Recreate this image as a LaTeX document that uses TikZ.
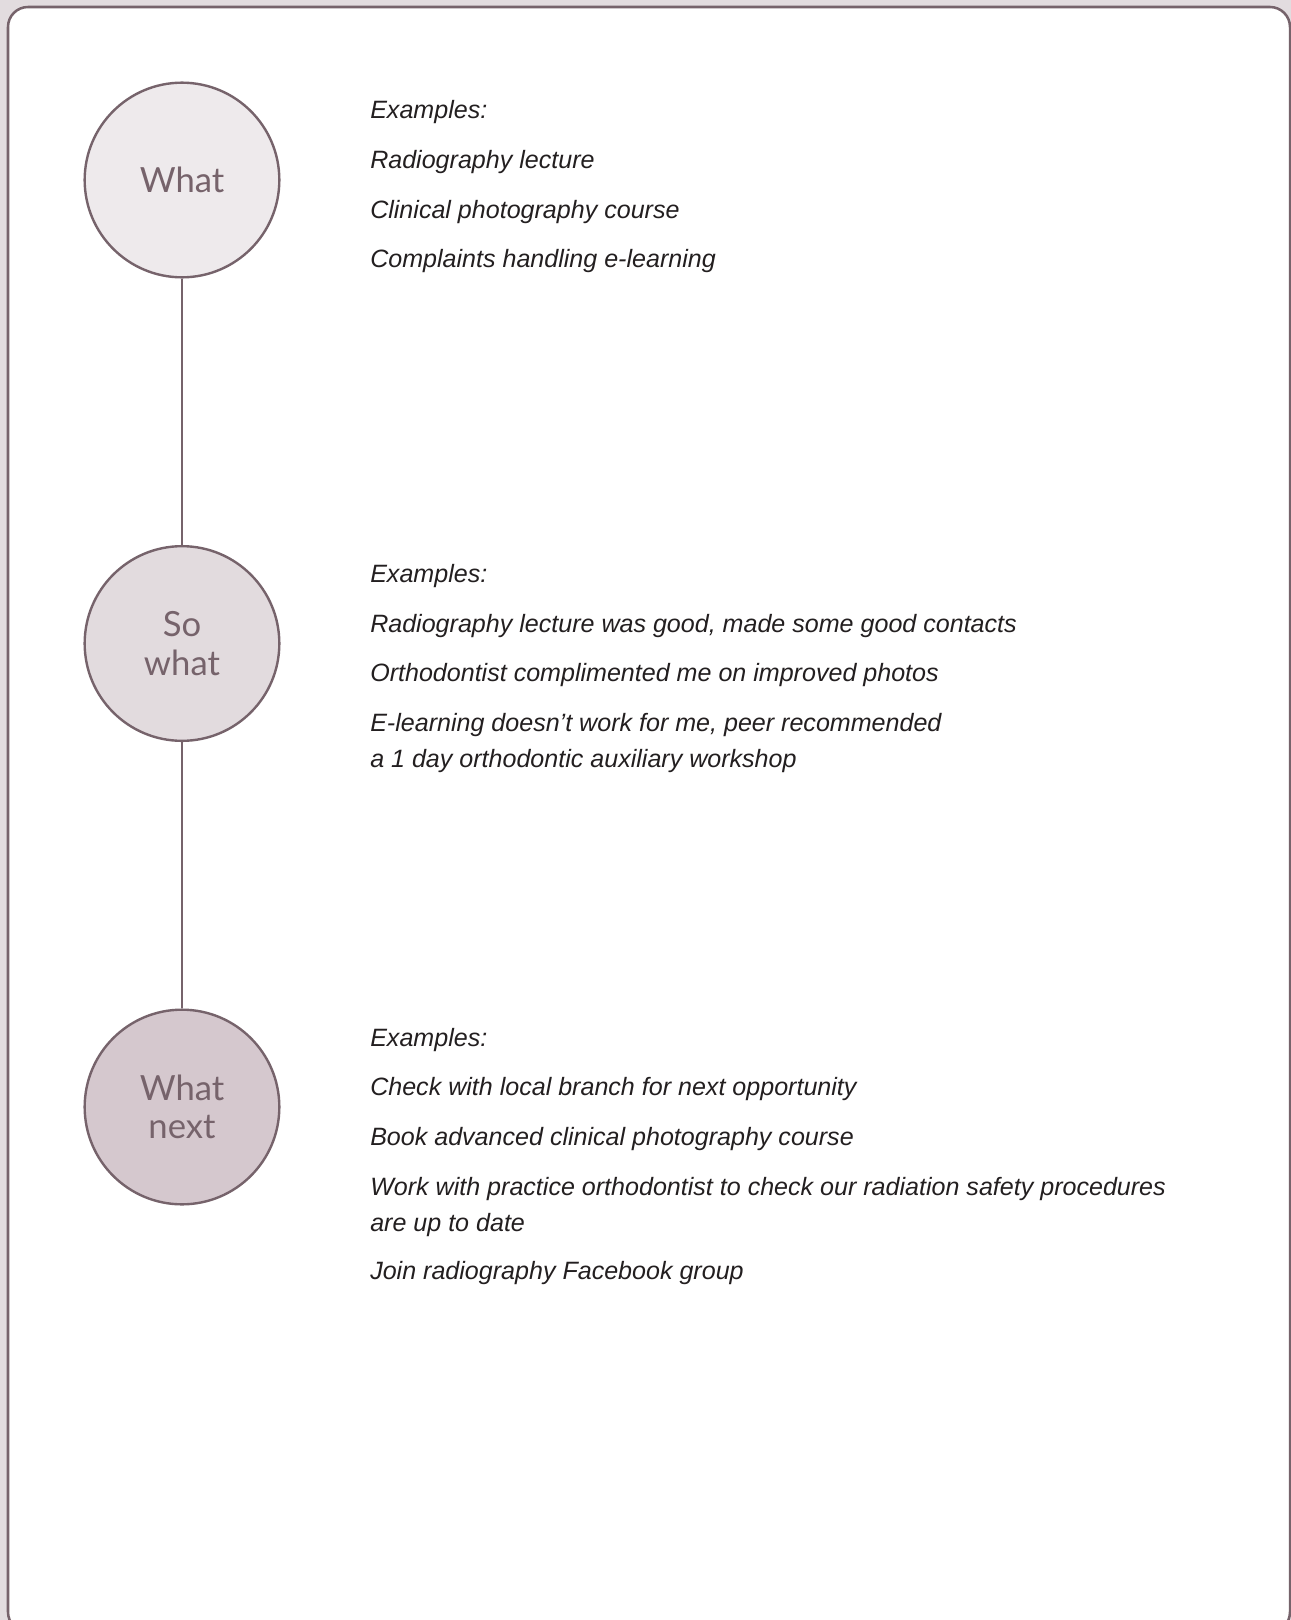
\documentclass[tikz,border=0pt]{standalone}
\usepackage{fontspec}
\setmainfont{Lato}
\newfontfamily\notefont{Liberation Sans}
\usetikzlibrary{positioning}

\definecolor{pagebg}{RGB}{226,220,223}
\definecolor{plum}{RGB}{118,99,107}
\definecolor{ink}{RGB}{35,31,32}
\definecolor{stageA}{RGB}{238,234,236}
\definecolor{stageB}{RGB}{226,219,222}
\definecolor{stageC}{RGB}{213,200,206}

\tikzset{
  stage/.style={circle, draw=plum, line width=1.8pt, minimum size=146pt, inner sep=0pt,
    text=plum, align=center, font=\fontsize{26}{29}\selectfont},
  note/.style={anchor=base west, inner sep=0pt, text=ink, font=\notefont\fontsize{18.8}{27}\selectfont\itshape},
  link/.style={draw=plum, line width=1.8pt}
}

\begin{document}
\begin{tikzpicture}[x=0.75pt,y=0.75pt,yscale=-1,xscale=1]
\useasboundingbox (0,0) rectangle (1291,1620);
\clip (0,0) rectangle (1291,1620);

%page and card
\fill[pagebg] (0,0) rectangle (1291,1620);
\draw[plum, fill=white, line width=1.9pt, rounded corners=15pt] (8,7) rectangle (1290,1632);

%stages
\node[stage, fill=stageA] (what) at (182,180) {What};
\node[stage, fill=stageB] (sowhat) at (182,643.5) {So\\what};
\node[stage, fill=stageC] (whatnext) at (182,1107) {What\\next};

\draw[link] (what) -- (sowhat);
\draw[link] (sowhat) -- (whatnext);

%what
\node[note] (what-ex) at (370,118) {Examples:};
\node[note] (what-a) at (370,168) {Radiography lecture};
\node[note] (what-b) at (370,218) {Clinical photography course};
\node[note] (what-c) at (370,267) {Complaints handling e-learning};

%so what
\node[note] (sowhat-ex) at (370,582) {Examples:};
\node[note] (sowhat-a) at (370,632) {Radiography lecture was good, made some good contacts};
\node[note] (sowhat-b) at (370,681) {Orthodontist complimented me on improved photos};
\node[note] (sowhat-c) at (370,731) {E-learning doesn’t work for me, peer recommended};
\node[note] (sowhat-c2) at (370,767) {a 1 day orthodontic auxiliary workshop};

%what next
\node[note] (whatnext-ex) at (370,1046) {Examples:};
\node[note] (whatnext-a) at (370,1095.5) {Check with local branch for next opportunity};
\node[note] (whatnext-b) at (370,1145) {Book advanced clinical photography course};
\node[note] (whatnext-c) at (370,1195) {Work with practice orthodontist to check our radiation safety procedures};
\node[note] (whatnext-c2) at (370,1231) {are up to date};
\node[note] (whatnext-d) at (370,1279) {Join radiography Facebook group};

\end{tikzpicture}
\end{document}
